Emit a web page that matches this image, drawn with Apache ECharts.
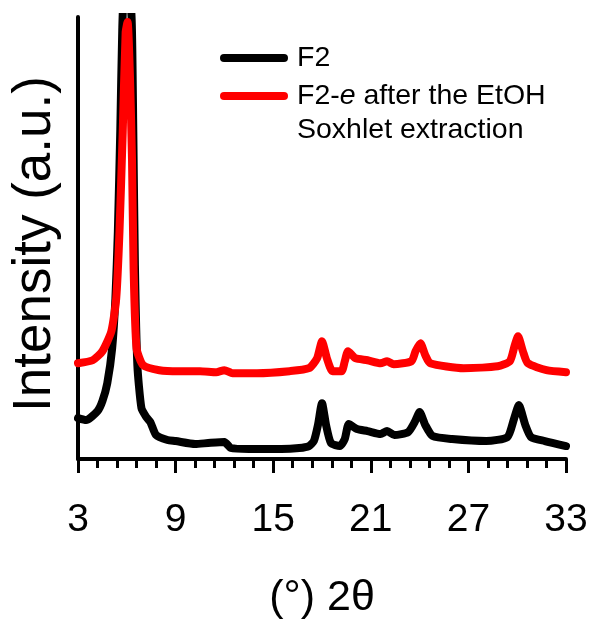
<!DOCTYPE html>
<html>
<head>
<meta charset="utf-8">
<script src="https://cdn.jsdelivr.net/npm/echarts@6/dist/echarts.min.js"></script>
<style>
  html, body { margin: 0; padding: 0; background: #fff; }
  #chart_xrd { width: 595px; height: 625px; }
</style>
</head>
<body>
<div id="chart_xrd"></div>
<script>
// 2theta / intensity
var f2_x = [3.0, 3.5, 4.2, 4.5, 4.8, 5.1, 5.3, 5.45, 5.6, 5.72, 5.85, 6.1, 6.3, 6.4, 6.5, 6.65, 6.9, 7.2, 7.45, 7.8,
            8.5, 9.0, 10.2, 11.0, 12.0, 12.4, 13.5, 14.5, 15.5, 16.6, 17.2, 17.5, 17.75, 18.0, 18.25, 18.55, 19.1, 19.4, 19.65, 20.15,
            20.8, 21.6, 22.0, 22.45, 23.3, 23.7, 24.0, 24.35, 24.8, 26.0, 28.1, 29.4, 29.8, 30.1, 30.5, 30.85, 31.7, 33.0];
var f2_y = [41, 39, 48, 58, 76, 111, 161, 228, 330, 430, 470, 470, 440, 328, 194, 94, 51, 42, 37, 24,
            19, 18, 15, 16, 17, 11, 10, 10, 10, 11, 13, 18, 34, 56, 34, 16, 13, 20, 35, 30,
            28, 25, 28, 24, 27, 37, 47, 34, 23, 20, 18, 22, 40, 54, 34, 22, 18, 13];

var f2e_x = [3.0, 3.9, 4.5, 5.05, 5.35, 5.55, 5.75, 5.93, 6.05, 6.2, 6.32, 6.42, 6.6, 7.0, 8.0, 9.2, 10.5, 11.5, 12.0, 12.5,
             14.0, 16.0, 17.2, 17.7, 18.0, 18.3, 18.65, 19.2, 19.4, 19.6, 20.05, 20.8, 21.6, 22.0, 22.4, 23.5, 23.75, 24.05, 24.35, 24.65,
             26.7, 28.8, 29.55, 29.85, 30.05, 30.35, 30.65, 31.8, 33.0];
var f2e_y = [96, 99, 108, 128, 161, 228, 328, 428, 438, 380, 300, 190, 111, 94, 89, 88, 88, 87, 89, 86,
             86, 88, 91, 101, 118, 101, 88, 88, 98, 108, 101, 99, 96, 98, 95, 98, 108, 116, 104, 96,
             91, 93, 98, 114, 123, 108, 96, 89, 87];

var x_ticks = [3, 9, 15, 21, 27, 33];

var FONT = 'Arial, "Liberation Sans", sans-serif';
// rounded bar used as legend icon
var LINE_ICON = 'path://M4,0 L64,0 A4,4 0 0 1 64,8 L4,8 A4,4 0 0 1 4,0 Z';

function toPairs(xs, ys){
    var arr = [];
    for(var i=0;i<xs.length;i++){
        arr.push([xs[i], ys[i]]);
    }
    return arr;
}

var myChart = echarts.init(document.getElementById('chart_xrd'));
var option = {
    animation: false,
    backgroundColor: '#fff',
    grid: {
        left: 78,
        right: 29,
        top: 17,
        bottom: 164
    },
    legend: [
        {
            data: ['F2'],
            left: 220,
            top: 41,
            padding: 0,
            icon: LINE_ICON,
            itemWidth: 68,
            itemHeight: 8,
            textStyle: {
                fontFamily: FONT,
                fontSize: 28.5,
                lineHeight: 34,
                color: '#000',
                padding: [0, 0, 0, 4]
            }
        },
        {
            data: ['F2-e after the EtOH Soxhlet extraction'],
            left: 220,
            top: 45,
            padding: 0,
            icon: LINE_ICON,
            itemWidth: 68,
            itemHeight: 8,
            formatter: function(){
                return '\n{n|F2-}{i|e}{n| after the EtOH}\n{n|Soxhlet extraction}';
            },
            textStyle: {
                fontFamily: FONT,
                fontSize: 28.5,
                lineHeight: 34,
                color: '#000',
                padding: [0, 0, 0, 4],
                rich: {
                    n: { fontFamily: FONT, fontSize: 28.5, lineHeight: 34, color: '#000' },
                    i: { fontFamily: FONT, fontSize: 28.5, lineHeight: 34, color: '#000', fontStyle: 'italic' }
                }
            }
        }
    ],
    xAxis: {
        type: 'value',
        min: x_ticks[0],
        max: x_ticks[x_ticks.length - 1],
        interval: 6,
        name: '(°) 2θ',
        nameLocation: 'middle',
        nameGap: 118,
        nameTextStyle: {
            fontFamily: FONT,
            fontSize: 43,
            color: '#000'
        },
        axisLine: {
            onZero: false,
            lineStyle: { color: '#000', width: 4 }
        },
        axisTick: {
            show: true,
            inside: false,
            length: 14,
            lineStyle: { color: '#000', width: 3 }
        },
        minorTick: {
            show: true,
            splitNumber: 5,
            length: 9,
            lineStyle: { color: '#000', width: 3 }
        },
        axisLabel: {
            fontFamily: FONT,
            fontSize: 39,
            color: '#000',
            margin: 42
        },
        splitLine: { show: false }
    },
    yAxis: {
        type: 'value',
        min: 0,
        max: 443,
        name: 'Intensity (a.u.)',
        nameLocation: 'middle',
        nameGap: 16,
        nameTextStyle: {
            fontFamily: FONT,
            fontSize: 53,
            color: '#000',
            padding: [0, 12, 0, 0]
        },
        axisLine: {
            show: true,
            lineStyle: { color: '#000', width: 4 }
        },
        axisTick: { show: false },
        axisLabel: { show: false },
        splitLine: { show: false }
    },
    series: [
        {
            name: 'F2',
            type: 'line',
            symbol: 'none',
            smooth: 0.2,
            clip: true,
            color: '#000',
            lineStyle: { color: '#000', width: 8, cap: 'round', join: 'round' },
            data: toPairs(f2_x, f2_y)
        },
        {
            name: 'F2-e after the EtOH Soxhlet extraction',
            type: 'line',
            symbol: 'none',
            smooth: 0.2,
            clip: true,
            color: '#ff0000',
            lineStyle: { color: '#ff0000', width: 8, cap: 'round', join: 'round' },
            data: toPairs(f2e_x, f2e_y)
        }
    ]
};
myChart.setOption(option);
</script>
</body>
</html>
